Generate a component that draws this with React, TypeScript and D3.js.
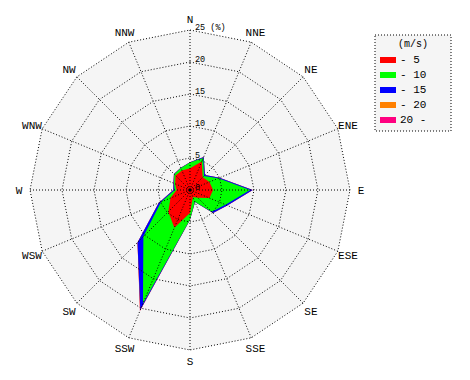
import React from "react";
import * as d3 from "d3";

const directions = ["N","NNE","NE","ENE","E","ESE","SE","SSE","S","SSW","SW","WSW","W","WNW","NW","NNW"];
const speedBins = ["- 5","- 10","- 15","- 20","20 -"];
const binColors = ["#ff0000","#00ff00","#0000ff","#ff8000","#ff0080"];
// frequency (%) per direction for each speed bin
const bin5 = [3.4,4.8,2.8,3.3,3.6,3.3,1.7,1.2,3.6,6.4,4.8,3.3,2.1,2.5,3.2,3.3];
const bin10 = [0.9,0.6,0.3,1.5,5.8,2.7,3.1,0.8,1.0,12.8,5.5,1.6,0.3,0.2,0.3,0.4];
const bin15 = [0.05,0.2,0.2,0.2,0.4,0.3,0.3,0.05,0.05,1.1,1.3,0.4,0.2,0.1,0.05,0.05];
const bin20 = [0,0,0,0,0,0,0,0,0,0.1,0,0,0,0,0,0];
const bin20p = [0,0,0,0,0,0,0,0,0,0.05,0,0,0,0,0,0];
const ringTicks = [5,10,15,20,25];

export default function App() {
  const W = 470, H = 380;
  const cx = 190, cy = 190, R = 160;
  const r = d3.scaleLinear().domain([0, 25]).range([0, R]);
  const n = directions.length;
  const ang = (i: number) => (i * 2 * Math.PI) / n;
  const pt = (i: number, v: number): [number, number] => [cx + r(v) * Math.sin(ang(i)), cy - r(v) * Math.cos(ang(i))];

  const bins = [bin5, bin10, bin15, bin20, bin20p];
  const cum: number[][] = [];
  bins.forEach((b, k) => {
    cum.push(b.map((v, i) => v + (k > 0 ? cum[k - 1][i] : 0)));
  });

  const line = d3.line<[number, number]>().curve(d3.curveLinearClosed);
  const ringPath = (v: number) => line(directions.map((_, i) => pt(i, v))) as string;

  const font = "'Liberation Mono', monospace";

  return (
    <svg width={W} height={H} style={{ position: "absolute", left: 0, top: 0, background: "#fff" }}>
      <path d={ringPath(25)} fill="#f5f5f5" />
      {cum.map((c, k) => k).reverse().map((k) => (
        <path key={k} d={line(cum[k].map((v, i) => pt(i, v))) as string} fill={binColors[k]} stroke="none" />
      ))}
      {ringTicks.map((t) => (
        <path key={t} d={ringPath(t)} fill="none" stroke="#000" strokeWidth={1} strokeDasharray="1,2" />
      ))}
      {directions.map((d, i) => {
        const [x, y] = pt(i, 25);
        return <line key={d} x1={cx} y1={cy} x2={x} y2={y} stroke="#000" strokeWidth={1} strokeDasharray="1,2" />;
      })}
      <circle cx={cx} cy={cy} r={1.8} fill="#000" />
      {[0, ...ringTicks].map((t) => (
        <text key={t} x={cx + 5} y={cy - r(t)} fontFamily={font} fontSize={8.5} fill="#000">
          {t === 25 ? "25 (%)" : String(t)}
        </text>
      ))}
      {directions.map((d, i) => {
        const x = cx + 171 * Math.sin(ang(i));
        const y = cy - 171 * Math.cos(ang(i)) + 1;
        return (
          <text key={d} x={x} y={y} textAnchor="middle" dominantBaseline="central" fontFamily={font} fontSize={11} fill="#000">
            {d}
          </text>
        );
      })}
      <g>
        <rect x={375} y={35} width={76} height={96} fill="#f5f5f5" stroke="#000" strokeDasharray="1,2" />
        <text x={413} y={44} textAnchor="middle" dominantBaseline="central" fontFamily={font} fontSize={10}>(m/s)</text>
        {speedBins.map((s, k) => (
          <g key={s}>
            <rect x={380} y={57 + k * 15} width={16} height={6} fill={binColors[k]} />
            <text x={400} y={60 + k * 15} dominantBaseline="central" fontFamily={font} fontSize={11}>{s}</text>
          </g>
        ))}
      </g>
    </svg>
  );
}
